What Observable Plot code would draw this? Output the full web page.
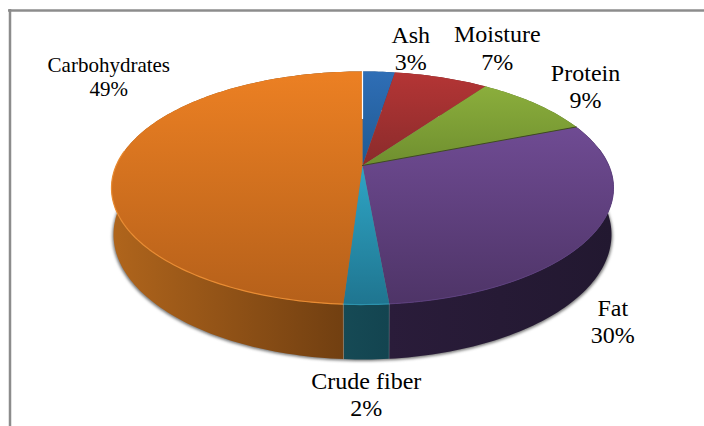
<!DOCTYPE html>
<html>
<head>
<meta charset="utf-8">
<script src="https://cdn.jsdelivr.net/npm/d3@7"></script>
<script src="https://cdn.jsdelivr.net/npm/@observablehq/plot@0.6"></script>
<style>html,body{margin:0;padding:0;background:#fff}</style>
</head>
<body>
<div id="chart"></div>
<script>
// Data (clockwise from 12 o'clock)
const categories = ["Ash", "Moisture", "Protein", "Fat", "Crude fiber", "Carbohydrates"];
const shares = [2.5, 7.3, 9.2, 29.6, 2.4, 49];
const percentLabels = ["3%", "7%", "9%", "30%", "2%", "49%"];

// Styling
const topColors = [["#2F6EB6","#1F5A92"],["#B43535","#8A2B2B"],["#8BAE3C","#6F8F2F"],["#6F4B93","#4E3467"],["#2FA5C5","#1F7590"],["#EC8023","#B5601A"]];
const sideColors = [["#1F4A7A","#1F4A7A"],["#6E2222","#6E2222"],["#56702A","#56702A"],["#2A1C3A","#221830"],["#164A55","#134450"],["#B0651C","#6C3C10"]];
const labelDx = [32, 56, 50, 17, 0, -9];
const labelDy = [-24, -30, -18, 90, 89, -86];
const labelSize = [24, 24, 24, 24, 24, 21];

// Perspective disc
const W = 704, H = 426;
const cx = 362, k = 0.193;
const upper = {R: 246.3, y0: 165, b: 112.2};
const lower = {R: 244.3, y0: 209.9, b: 120.3};
const rim = (rimDef, f) => {
  const a = f / 100 * 2 * Math.PI, u = Math.sin(a), v = -Math.cos(a), d = 1 - k * v;
  return {x: cx + rimDef.R * u / d, y: rimDef.y0 + rimDef.b * v / d};
};
const arc = (rimDef, f0, f1) => {
  const n = Math.max(2, Math.ceil((f1 - f0) * 3));
  return d3.range(n + 1).map(i => rim(rimDef, f0 + (f1 - f0) * i / n));
};

let sum = 0;
const slices = shares.map((s, i) => {
  const f0 = sum; sum += s;
  return {i, name: categories[i], f0, f1: sum, mid: (f0 + sum) / 2};
});
const apex = {x: cx, y: upper.y0};
const topFace = s => [apex, ...arc(upper, s.f0, s.f1), apex];
const sideFace = s => [...arc(upper, s.f0, s.f1), ...arc(lower, s.f0, s.f1).reverse()];
const labels = slices.map(s => {
  const p = rim(upper, s.mid);
  return {x: p.x + labelDx[s.i], y: p.y + labelDy[s.i], text: s.name + "\n" + percentLabels[s.i], size: labelSize[s.i]};
});

const defs = () => {
  const d = d3.create("svg:defs");
  const grad = (id, colors, horizontal) => {
    const g = d.append("linearGradient").attr("id", id)
      .attr("x1", 0).attr("y1", 0).attr("x2", horizontal ? 1 : 0).attr("y2", horizontal ? 0 : 1);
    g.append("stop").attr("offset", "0%").attr("stop-color", colors[0]);
    g.append("stop").attr("offset", "100%").attr("stop-color", colors[1]);
  };
  topColors.forEach((c, i) => grad("top" + i, c, false));
  sideColors.forEach((c, i) => grad("side" + i, c, true));
  return d.node();
};

const poly = (data, fill) => Plot.line(data, {x: "x", y: "y", fill, stroke: "none"});
const carbo = slices[5], crude = slices[4], fat = slices[3];
const rimFront = 26; // share of the turn a bevel keeps on the near side

const chart = Plot.plot({
  width: W, height: H,
  margin: 0,
  x: {domain: [0, W], range: [0, W], axis: null},
  y: {domain: [0, H], range: [0, H], axis: null},
  style: {background: "#fff", display: "block"},
  marks: [
    defs,
    // soft shadow under the disc
    Plot.line(arc({...lower, R: lower.R + 1, y0: lower.y0 + 1.5}, 0, 100),
      {x: "x", y: "y", fill: "#777", stroke: "none", imageFilter: "blur(1.5px)"}),
    // side walls, then the top wedges
    ...slices.map(s => poly(sideFace(s), `url(#side${s.i})`)),
    ...slices.map(s => poly(topFace(s), `url(#top${s.i})`)),
    // bevels on the near rim only
    Plot.line(arc(upper, carbo.f0, carbo.f0 + rimFront), {x: "x", y: "y", stroke: "#E98C33", strokeWidth: 1.2}),
    Plot.line(arc(upper, crude.f0, crude.f1), {x: "x", y: "y", stroke: "#2C93AE", strokeWidth: 1.2}),
    Plot.line(arc(upper, fat.f1 - rimFront, fat.f1), {x: "x", y: "y", stroke: "#5E4080", strokeWidth: 1}),
    Plot.line([apex, rim(upper, fat.f0)], {x: "x", y: "y", stroke: "#3F4A22", strokeWidth: 1}),
    Plot.line([rim(upper, 100), {x: (cx + rim(upper, 100).x) / 2, y: (apex.y + rim(upper, 100).y) / 2}], {x: "x", y: "y", stroke: "#fff", strokeWidth: 1.2}),
    // pale seams on the crude-fiber wall
    Plot.line([rim(upper, crude.f1), rim(lower, crude.f1)], {x: "x", y: "y", stroke: "#B9A58F", strokeWidth: 0.8, strokeOpacity: 0.6}),
    Plot.line([rim(upper, crude.f0), rim(lower, crude.f0)], {x: "x", y: "y", stroke: "#8FA0A8", strokeWidth: 0.8, strokeOpacity: 0.4}),
    // labels
    Plot.text(labels.filter(d => d.size === 24), {x: "x", y: "y", text: "text", fontSize: 24, lineHeight: 1.13, fill: "#000", fontFamily: "Liberation Serif"}),
    Plot.text(labels.filter(d => d.size === 21), {x: "x", y: "y", text: "text", fontSize: 21, lineHeight: 1.19, fill: "#000", fontFamily: "Liberation Serif"}),
    // frame
    Plot.ruleY([10], {x1: 8, x2: W, stroke: "#8C8C8C", strokeWidth: 2.5}),
    Plot.ruleX([9.5], {y1: 9, y2: H, stroke: "#8C8C8C", strokeWidth: 2.5})
  ]
});
document.getElementById("chart").appendChild(chart);
</script>
</body>
</html>
